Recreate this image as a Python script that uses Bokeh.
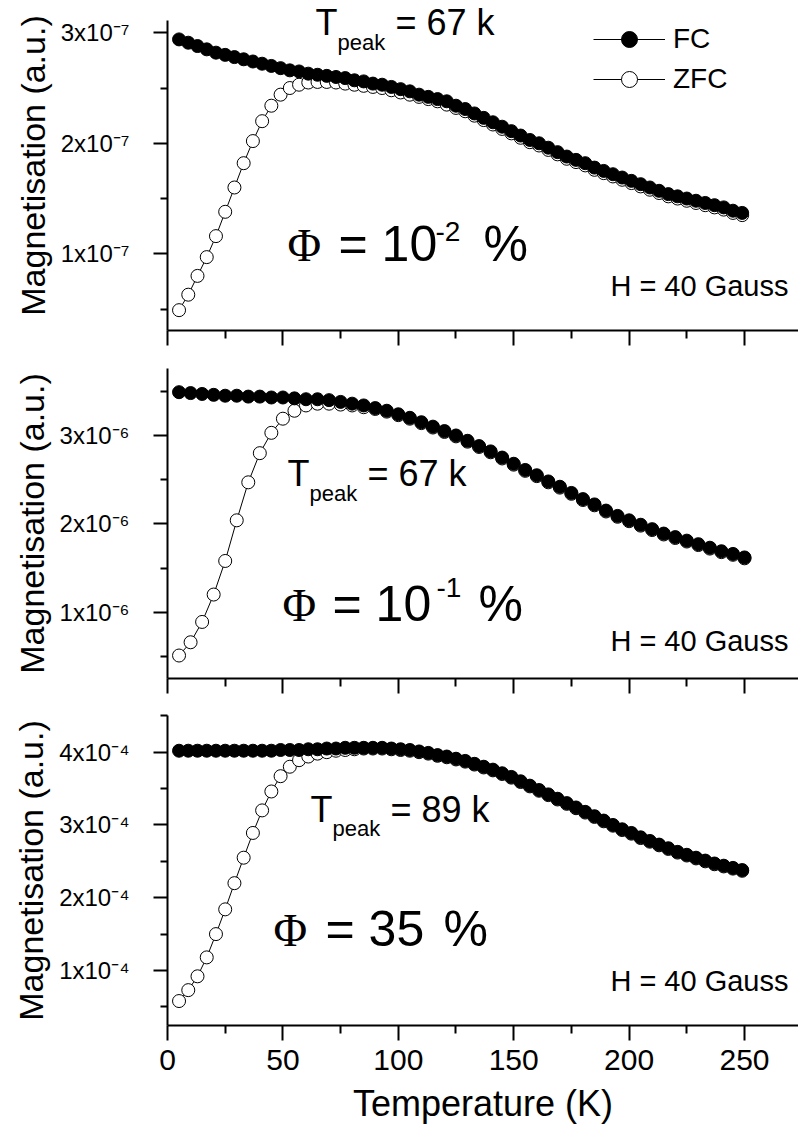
import numpy as np
from bokeh.plotting import figure
from bokeh.models import Range1d, FixedTicker, Label, Legend, LegendItem, CustomJSTickFormatter
from bokeh.layouts import column
from bokeh.embed import file_html
from bokeh.resources import INLINE

# ---------------- data ----------------
# temperatures (K)
temp_a = [5, 9, 13, 17, 21, 25, 29, 33, 37, 41, 45, 49, 53, 57, 61, 65, 69, 73, 77, 81,
          85, 89, 93, 97, 101, 105, 109, 113, 117, 121, 125, 129, 133, 137, 141, 145, 149,
          153, 157, 161, 165, 169, 173, 177, 181, 185, 189, 193, 197, 201, 205, 209, 213,
          217, 221, 225, 229, 233, 237, 241, 245, 249]
temp_b = [5, 10, 15, 20, 25, 30, 35, 40, 45, 50, 55, 60, 65, 70, 75, 80, 85, 90, 95, 100,
          105, 110, 115, 120, 125, 130, 135, 140, 145, 150, 155, 160, 165, 170, 175, 180,
          185, 190, 195, 200, 205, 210, 215, 220, 225, 230, 235, 240, 245, 250]

# panel 1 (x 1e-7), phi = 1e-2 %
fc_1 = [2.94, 2.91, 2.88, 2.85, 2.82, 2.80, 2.78, 2.76, 2.74, 2.72,
        2.70, 2.68, 2.66, 2.65, 2.63, 2.62, 2.61, 2.60, 2.59, 2.57,
        2.56, 2.54, 2.53, 2.51, 2.49, 2.47, 2.44, 2.42, 2.40, 2.38,
        2.34, 2.31, 2.27, 2.23, 2.19, 2.15, 2.11, 2.07, 2.03, 2.00,
        1.96, 1.92, 1.88, 1.85, 1.82, 1.78, 1.75, 1.72, 1.69, 1.66,
        1.63, 1.60, 1.57, 1.54, 1.52, 1.50, 1.48, 1.46, 1.44, 1.42,
        1.39, 1.37]
zfc_1 = [0.49, 0.63, 0.80, 0.97, 1.16, 1.38, 1.60, 1.82, 2.02, 2.20,
         2.34, 2.44, 2.50, 2.53, 2.55, 2.555, 2.555, 2.55, 2.54, 2.53,
         2.52, 2.51, 2.50, 2.48, 2.46, 2.44, 2.42, 2.40, 2.38, 2.35,
         2.32, 2.29, 2.25, 2.21, 2.17, 2.13, 2.09, 2.05, 2.01, 1.98,
         1.94, 1.90, 1.86, 1.83, 1.80, 1.76, 1.73, 1.70, 1.67, 1.64,
         1.61, 1.58, 1.55, 1.52, 1.50, 1.48, 1.46, 1.44, 1.42, 1.40,
         1.37, 1.35]

# panel 2 (x 1e-6), phi = 1e-1 %
fc_2 = [3.49, 3.48, 3.47, 3.46, 3.45, 3.45, 3.44, 3.44, 3.43, 3.43,
        3.42, 3.41, 3.41, 3.40, 3.38, 3.36, 3.34, 3.31, 3.28, 3.24,
        3.20, 3.15, 3.10, 3.05, 3.00, 2.94, 2.88, 2.82, 2.75, 2.68,
        2.61, 2.55, 2.48, 2.42, 2.35, 2.28, 2.22, 2.15, 2.09, 2.04,
        1.99, 1.94, 1.89, 1.85, 1.81, 1.77, 1.73, 1.69, 1.66, 1.62]
zfc_2 = [0.51, 0.66, 0.89, 1.20, 1.58, 2.04, 2.47, 2.80, 3.03, 3.19,
         3.28, 3.34, 3.36, 3.36, 3.35, 3.34, 3.32, 3.30, 3.27, 3.23,
         3.19, 3.14, 3.09, 3.04, 2.99, 2.93, 2.87, 2.81, 2.74, 2.67,
         2.60, 2.54, 2.47, 2.41, 2.34, 2.27, 2.21, 2.14, 2.08, 2.03,
         1.98, 1.93, 1.88, 1.84, 1.80, 1.76, 1.72, 1.68, 1.65, 1.61]

# panel 3 (x 1e-4), phi = 35 %
fc_3 = [4.02, 4.02, 4.02, 4.02, 4.02, 4.02, 4.02, 4.02, 4.02, 4.02,
        4.02, 4.03, 4.03, 4.03, 4.04, 4.04, 4.05, 4.05, 4.06, 4.06,
        4.06, 4.06, 4.06, 4.05, 4.04, 4.03, 4.01, 3.99, 3.96, 3.94,
        3.91, 3.88, 3.84, 3.80, 3.76, 3.71, 3.66, 3.60, 3.54, 3.48,
        3.42, 3.36, 3.30, 3.24, 3.18, 3.12, 3.06, 3.00, 2.94, 2.89,
        2.83, 2.78, 2.73, 2.68, 2.63, 2.59, 2.55, 2.51, 2.47, 2.44,
        2.41, 2.38]
zfc_3 = [0.58, 0.73, 0.92, 1.18, 1.50, 1.84, 2.20, 2.55, 2.89, 3.20,
         3.46, 3.67, 3.80, 3.89, 3.94, 3.98, 4.00, 4.02, 4.03, 4.04,
         4.05, 4.05, 4.05, 4.04, 4.03, 4.02, 4.00, 3.98, 3.95, 3.93,
         3.90, 3.87, 3.83, 3.79, 3.75, 3.70, 3.65, 3.59, 3.53, 3.47,
         3.41, 3.35, 3.29, 3.23, 3.17, 3.11, 3.05, 2.99, 2.93, 2.88,
         2.82, 2.77, 2.72, 2.67, 2.62, 2.58, 2.54, 2.50, 2.46, 2.43,
         2.40, 2.37]

x_ticks = [0, 50, 100, 150, 200, 250]
x_minor = [25, 75, 125, 175, 225, 275]
y_ticks_1 = [1, 2, 3]
y_labels_1 = ["1x10⁻⁷", "2x10⁻⁷", "3x10⁻⁷"]
y_ticks_2 = [1, 2, 3]
y_labels_2 = ["1x10⁻⁶", "2x10⁻⁶", "3x10⁻⁶"]
y_ticks_3 = [1, 2, 3, 4]
y_labels_3 = ["1x10⁻⁴", "2x10⁻⁴", "3x10⁻⁴", "4x10⁻⁴"]

FONT = "Liberation Sans"
W = 798
X_RANGE = (0, 273.4)
FRAME_L, FRAME_W = 167, 631


def make_panel(height, top, bottom, yr, ybounds, yticks, ylabels, show_x):
    p = figure(width=W, height=height, x_range=Range1d(*X_RANGE), y_range=Range1d(*yr),
               output_backend="svg", toolbar_location=None,
               min_border_left=FRAME_L, min_border_right=0,
               min_border_top=top, min_border_bottom=bottom)
    p.grid.visible = False
    p.outline_line_color = None
    p.background_fill_color = "white"
    p.border_fill_color = "white"

    xa = p.xaxis[0]
    xa.ticker = FixedTicker(ticks=x_ticks, minor_ticks=x_minor)
    xa.axis_line_width = 2
    xa.major_tick_line_width = 2
    xa.minor_tick_line_width = 2
    xa.major_tick_in = 0
    xa.major_tick_out = 15
    xa.minor_tick_in = 0
    xa.minor_tick_out = 8
    xa.axis_line_color = "black"
    xa.major_tick_line_color = "black"
    xa.minor_tick_line_color = "black"
    if show_x:
        xa.major_label_text_font = FONT
        xa.major_label_text_font_size = "30px"
        xa.major_label_text_color = "black"
        xa.major_label_standoff = 9
        xa.axis_label = "Temperature (K)"
        xa.axis_label_text_font = FONT
        xa.axis_label_text_font_size = "36px"
        xa.axis_label_text_font_style = "normal"
        xa.axis_label_text_color = "black"
        xa.axis_label_standoff = 10
    else:
        xa.formatter = CustomJSTickFormatter(code="return ''")
        xa.major_label_text_font_size = "0px"
        xa.major_label_standoff = 0

    ya = p.yaxis[0]
    minor = [v - 0.5 for v in yticks] + [yticks[-1] + 0.5]
    ya.ticker = FixedTicker(ticks=yticks, minor_ticks=minor)
    ya.bounds = ybounds
    ya.major_label_overrides = {t: s for t, s in zip(yticks, ylabels)}
    ya.axis_line_width = 2
    ya.major_tick_line_width = 2
    ya.minor_tick_line_width = 2
    ya.major_tick_in = 0
    ya.major_tick_out = 14
    ya.minor_tick_in = 0
    ya.minor_tick_out = 7
    ya.axis_line_color = "black"
    ya.major_tick_line_color = "black"
    ya.minor_tick_line_color = "black"
    ya.major_label_text_font = FONT
    ya.major_label_text_font_size = "24px"
    ya.major_label_text_color = "black"
    ya.major_label_standoff = 24
    ya.axis_label = "Magnetisation (a.u.)"
    ya.axis_label_text_font = FONT
    ya.axis_label_text_font_size = "34px"
    ya.axis_label_text_font_style = "normal"
    ya.axis_label_text_color = "black"
    ya.axis_label_standoff = 6
    return p


def add_series(p, temp, zfc, fc):
    zl = p.line(temp, zfc, line_color="black", line_width=1)
    zs = p.scatter(temp, zfc, marker="circle", size=13, fill_color="white",
                   line_color="black", line_width=1)
    fl = p.line(temp, fc, line_color="black", line_width=1)
    fs = p.scatter(temp, fc, marker="circle", size=13, fill_color="black",
                   line_color="black", line_width=1)
    return (fl, fs), (zl, zs)


def txt(p, yr, frame, px, py, text, size, font=FONT, align="left"):
    """Place a text with its left (or right) edge at page pixel px and baseline at py."""
    frame_top, frame_h = frame
    x = X_RANGE[0] + (px - FRAME_L) * (X_RANGE[1] - X_RANGE[0]) / FRAME_W
    py_adj = py - 0.4 * size
    y = yr[1] - (py_adj - frame_top) * (yr[1] - yr[0]) / frame_h
    p.add_layout(Label(x=x, y=y, text=text, text_font=font, text_font_size=f"{size}px",
                       text_color="black", text_baseline="alphabetic", text_align=align))


def annotate(p, yr, frame, t_pos, eq_text, phi_pos, num_x, num_text, sup_pos, sup_text,
             pct_x, h_y):
    tx, ty, sub_y = t_pos
    txt(p, yr, frame, tx, ty, "T", 36)
    txt(p, yr, frame, tx + 22, sub_y, "peak", 22)
    txt(p, yr, frame, tx + 80, ty, eq_text, 36)
    phx, phy = phi_pos
    txt(p, yr, frame, phx, phy, "Φ", 46, font="Liberation Serif")
    txt(p, yr, frame, num_x, phy, num_text, 50)
    if sup_text:
        txt(p, yr, frame, sup_pos[0], sup_pos[1], sup_text, 28)
    txt(p, yr, frame, pct_x, phy, "%", 50)
    txt(p, yr, frame, 788, h_y, "H = 40 Gauss", 29, align="right")


# panel 1 (frame spans page y 0..330; axis line drawn from y=20)
yr1 = (0.306, 3.292)
p1 = make_panel(348, 0, 18, yr1, (0.306, 3.111), y_ticks_1, y_labels_1, False)
(f1l, f1s), (z1l, z1s) = add_series(p1, temp_a, zfc_1, fc_1)
annotate(p1, yr1, (0, 330), (315, 36, 50.7), "= 67 k", (287, 263), 338, "= 10",
         (435, 242), "-2", 483, 297)
legend = Legend(items=[LegendItem(label="FC", renderers=[f1l, f1s]),
                       LegendItem(label="ZFC", renderers=[z1l, z1s])],
                location=(426, 231), glyph_width=72, glyph_height=40, spacing=-3,
                padding=0, margin=0, border_line_color=None, background_fill_alpha=0,
                label_text_font=FONT, label_text_font_size="28px", label_standoff=8,
                label_text_color="black")
p1.add_layout(legend)

# panel 2
yr2 = (0.250, 3.758)
p2 = make_panel(347, 20, 17, yr2, yr2, y_ticks_2, y_labels_2, False)
add_series(p2, temp_b, zfc_2, fc_2)
annotate(p2, yr2, (368, 310), (287, 487, 501.7), "= 67 k", (282, 623), 332, "= 10",
         (436, 598), "-1", 478, 652)

# panel 3
yr3 = (0.244, 4.504)
p3 = make_panel(440, 20, 110, yr3, yr3, y_ticks_3, y_labels_3, True)
add_series(p3, temp_a, zfc_3, fc_3)
annotate(p3, yr3, (715, 310), (310, 823.3, 836.7), "= 89 k", (273, 948), 325, "= 35",
         None, None, 443, 992)

layout = column(p1, p2, p3, spacing=0)
open("out.html", "w").write(file_html(layout, INLINE))
